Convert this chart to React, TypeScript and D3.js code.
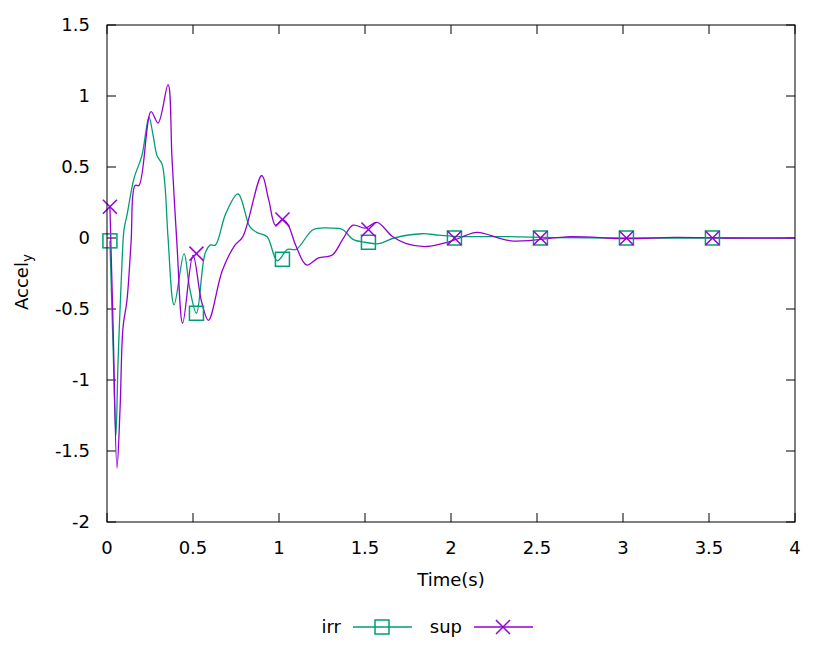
import React from "react";
import * as d3 from "d3";

const xTicks = [0, 0.5, 1, 1.5, 2, 2.5, 3, 3.5, 4];
const yTicks = [-2, -1.5, -1, -0.5, 0, 0.5, 1, 1.5];

const irrT = [0.017, 0.035, 0.052, 0.064, 0.087, 0.099, 0.116, 0.157, 0.203, 0.244, 0.267, 0.291, 0.32, 0.337, 0.355, 0.39, 0.448, 0.48, 0.52, 0.57, 0.6, 0.63, 0.69, 0.762, 0.83, 0.87, 0.93, 0.99, 1.05, 1.1, 1.2, 1.3, 1.37, 1.43, 1.5, 1.58, 1.67, 1.83, 1.93, 2.05, 2.3, 2.6, 3.0, 3.5, 4.0];
const irrV = [-0.02, -0.75, -1.39, -0.88, -0.18, 0.06, 0.16, 0.42, 0.58, 0.85, 0.73, 0.58, 0.52, 0.37, 0.0, -0.47, -0.11, -0.35, -0.53, -0.11, -0.05, -0.05, 0.17, 0.31, 0.08, 0.04, 0.01, -0.16, -0.08, -0.08, 0.06, 0.07, 0.06, -0.01, -0.03, -0.04, 0.0, 0.03, 0.02, 0.01, 0.01, 0.003, 0.0, 0.0, 0.0];

const supT = [0.017, 0.035, 0.058, 0.076, 0.093, 0.116, 0.14, 0.163, 0.186, 0.256, 0.297, 0.355, 0.378, 0.407, 0.44, 0.5, 0.55, 0.59, 0.67, 0.744, 0.79, 0.9, 0.94, 0.98, 1.02, 1.05, 1.1, 1.16, 1.23, 1.31, 1.37, 1.43, 1.5, 1.57, 1.66, 1.74, 1.86, 1.98, 2.05, 2.15, 2.35, 2.7, 3.0, 3.3, 3.6, 4.0];
const supV = [0.22, -0.6, -1.62, -1.2, -0.63, -0.44, -0.03, 0.37, 0.37, 0.89, 0.81, 1.08, 0.56, -0.05, -0.6, -0.12, -0.45, -0.58, -0.23, -0.05, 0.01, 0.44, 0.27, 0.09, 0.13, 0.1, -0.06, -0.19, -0.14, -0.12, -0.01, 0.09, 0.07, 0.11, 0.01, -0.04, -0.06, -0.03, 0.0, 0.04, -0.02, 0.01, -0.005, 0.004, 0.0, 0.0];

const markT = [0.017, 0.52, 1.02, 1.52, 2.02, 2.52, 3.02, 3.52];
const irrMarkV = [-0.02, -0.53, -0.15, -0.03, 0.0, 0.0, 0.0, 0.0];
const supMarkV = [0.22, -0.11, 0.13, 0.06, 0.0, 0.0, 0.0, 0.0];

const GREEN = "#009e73";
const PURPLE = "#9400d3";
const FONT = "'DejaVu Sans', sans-serif";
const FS = 18;

export default function App() {
  const W = 830, H = 669;
  const left = 107, right = 795, top = 25, bottom = 522;
  const x = d3.scaleLinear().domain([0, 4]).range([left, right]);
  const y = d3.scaleLinear().domain([-2, 1.5]).range([bottom, top]);
  const line = d3
    .line<[number, number]>()
    .x((d) => x(d[0]))
    .y((d) => y(d[1]))
    .curve(d3.curveCatmullRom.alpha(0.5));
  const irrPts = irrT.map((t, i) => [t, irrV[i]] as [number, number]);
  const supPts = supT.map((t, i) => [t, supV[i]] as [number, number]);
  const tl = 9;
  const sq = 14;
  const xs = 7;

  const square = (cx: number, cy: number, key: string) => (
    <rect key={key} x={cx - sq / 2} y={cy - sq / 2} width={sq} height={sq} fill="none" stroke={GREEN} strokeWidth={1.5} />
  );
  const cross = (cx: number, cy: number, key: string) => (
    <g key={key} stroke={PURPLE} strokeWidth={1.5}>
      <line x1={cx - xs} y1={cy - xs} x2={cx + xs} y2={cy + xs} />
      <line x1={cx - xs} y1={cy + xs} x2={cx + xs} y2={cy - xs} />
    </g>
  );

  return (
    <svg width={W} height={H} style={{ position: "absolute", left: 0, top: 0, background: "#fff" }} fontFamily={FONT} fontSize={FS}>
      <rect x={0} y={0} width={W} height={H} fill="#fff" />
      <g stroke="#000" strokeWidth={1}>
        {yTicks.map((v) => (
          <g key={"yt" + v}>
            <line x1={left} x2={left + tl} y1={y(v)} y2={y(v)} />
            <line x1={right} x2={right - tl} y1={y(v)} y2={y(v)} />
          </g>
        ))}
        {xTicks.map((v) => (
          <g key={"xt" + v}>
            <line x1={x(v)} x2={x(v)} y1={bottom} y2={bottom - tl} />
            <line x1={x(v)} x2={x(v)} y1={top} y2={top + tl} />
          </g>
        ))}
      </g>
      {yTicks.map((v) => (
        <text key={"yl" + v} x={left - 17} y={y(v)} dy="0.35em" textAnchor="end" fill="#000">
          {String(v)}
        </text>
      ))}
      {xTicks.map((v) => (
        <text key={"xl" + v} x={x(v)} y={bottom + 26} dy="0.35em" textAnchor="middle" fill="#000">
          {String(v)}
        </text>
      ))}
      <text x={(left + right) / 2} y={580} dy="0.35em" textAnchor="middle" fill="#000">Time(s)</text>
      <text transform={`translate(22,${282}) rotate(-90)`} textAnchor="middle" dy="0.35em" fill="#000">
        Accel<tspan fontSize={FS * 0.75} dy="0.3em">y</tspan>
      </text>
      <path d={line(irrPts) || ""} fill="none" stroke={GREEN} strokeWidth={1.3} />
      <path d={line(supPts) || ""} fill="none" stroke={PURPLE} strokeWidth={1.3} />
      {markT.map((t, i) => square(x(t), y(irrMarkV[i]), "sq" + i))}
      {markT.map((t, i) => cross(x(t), y(supMarkV[i]), "cx" + i))}
      <rect x={left} y={top} width={right - left} height={bottom - top} fill="none" stroke="#000" strokeWidth={1} />
      <text x={341} y={627} dy="0.35em" textAnchor="end" fill="#000">irr</text>
      <line x1={353} x2={412} y1={627} y2={627} stroke={GREEN} strokeWidth={1.3} />
      {square(382, 627, "lsq")}
      <text x={462} y={627} dy="0.35em" textAnchor="end" fill="#000">sup</text>
      <line x1={474} x2={533} y1={627} y2={627} stroke={PURPLE} strokeWidth={1.3} />
      {cross(503, 627, "lcx")}
    </svg>
  );
}
